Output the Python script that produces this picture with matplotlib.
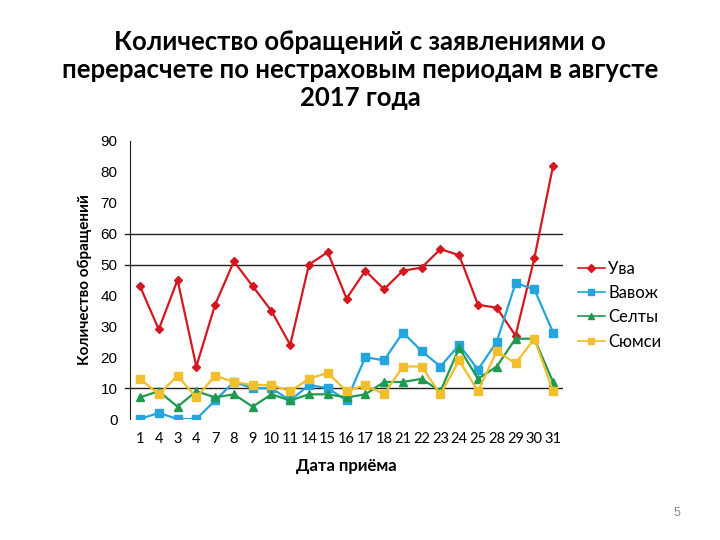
import matplotlib.pyplot as plt
import numpy as np

dates = ["1", "4", "3", "4", "7", "8", "9", "10", "11", "14", "15", "16",
         "17", "18", "21", "22", "23", "24", "25", "28", "29", "30", "31"]
uva = [43, 29, 45, 17, 37, 51, 43, 35, 24, 50, 54, 39,
       48, 42, 48, 49, 55, 53, 37, 36, 27, 52, 82]
vavozh = [0, 2, 0, 0, 6, 12, 10, 10, 6, 11, 10, 6,
          20, 19, 28, 22, 17, 24, 16, 25, 44, 42, 28]
selty = [7, 9, 4, 9, 7, 8, 4, 8, 6, 8, 8, 7,
         8, 12, 12, 13, 9, 23, 13, 17, 26, 26, 12]
syumsi = [13, 8, 14, 7, 14, 12, 11, 11, 9, 13, 15, 9,
          11, 8, 17, 17, 8, 19, 9, 22, 18, 26, 9]

plt.rcParams['font.family'] = ['Liberation Sans', 'DejaVu Sans']

fig = plt.figure(figsize=(7.2, 5.4), dpi=100)
ax = fig.add_axes([0.1806, 0.224, 0.6014, 0.515])

x = np.arange(len(dates))
ax.plot(x, uva, color="#D3191F", marker="D", markersize=4.5, lw=1.6, label="Ува")
ax.plot(x, vavozh, color="#23A5DE", marker="s", markersize=6, lw=1.6, label="Вавож")
ax.plot(x, selty, color="#1F9A4E", marker="^", markersize=6, lw=1.6, label="Селты")
ax.plot(x, syumsi, color="#F1BE2C", marker="s", markersize=6, lw=1.6, label="Сюмси")

ax.set_xlim(-0.53, len(dates) - 0.47)
ax.set_ylim(0, 90)
ax.set_yticks(range(0, 91, 10))
ax.tick_params(axis="y", length=0, labelsize=11, pad=9, colors="black")
ax.set_xticks(x)
ax.set_xticklabels(dates, fontsize=10.5, family=["Lato", "DejaVu Sans"])
ax.tick_params(axis="x", length=0, pad=9)

# линии сетки только на 10, 50 и 60
for y in (10, 50, 60):
    ax.axhline(y, color="#222222", lw=1.0, zorder=0)
    ax.plot([-0.8, -0.53], [y, y], color="#222222", lw=1.0, clip_on=False)

for s in ("top", "right", "bottom"):
    ax.spines[s].set_visible(False)
ax.spines["left"].set_color("#222222")

ax.set_xlabel("Дата приёма", fontsize=12, fontweight="bold",
              family=["Lato", "DejaVu Sans"], labelpad=9)
ax.set_ylabel("Количество обращений", fontsize=11, fontweight="bold",
              family=["Lato", "DejaVu Sans"], labelpad=6)

ax.legend(loc="center left", bbox_to_anchor=(1.0, 0.41), frameon=False,
          handlelength=1.6, handletextpad=0.2, labelspacing=0.5,
          prop={"family": ["Lato", "DejaVu Sans"], "size": 12})
for h in ax.get_legend().get_lines():
    h.set_markersize(4)
    h.set_linewidth(1.2)

fig.text(0.5, 0.870, "Количество обращений с заявлениями о\nперерасчете по нестраховым периодам в августе\n2017 года",
         ha="center", va="center", fontsize=18.5, fontweight="bold",
         family=["Lato", "DejaVu Sans"], linespacing=1.2)
fig.text(0.94, 0.045, "5", fontsize=9, color="#888888", ha="center")

plt.savefig("out.png", dpi=100)
